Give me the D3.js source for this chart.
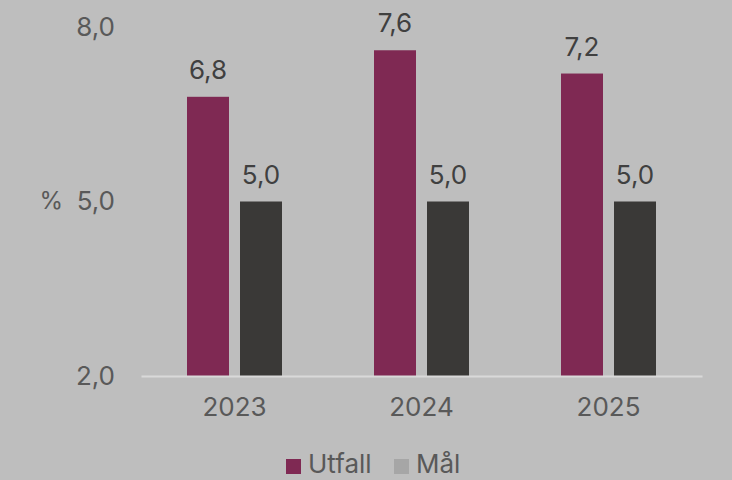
<!DOCTYPE html>
<html>
<head>
<meta charset="utf-8">
<script src="https://cdn.jsdelivr.net/npm/d3@7"></script>
<style>
  body { margin: 0; background: #bebebe; }
  svg text { font-family: Inter, "Noto Sans", sans-serif; }
</style>
</head>
<body>
<div id="chart"></div>
<script>
// data
let years = ["2023", "2024", "2025"];
let utfall = [6.8, 7.6, 7.2];
let maal = [5.0, 5.0, 5.0];
let yTicks = [2, 5, 8];
let seriesNames = ["Utfall", "Mål"];

let width = 732;
let height = 480;
let margin = {left: 141, right: 30, top: 27, bottom: 104};
let fs = 26;

let svg = d3.select("#chart").append("svg")
    .attr("width", width)
    .attr("height", height);

svg.append("rect")
    .attr("width", width)
    .attr("height", height)
    .attr("fill", "#bebebe");

let x = d3.scaleBand()
    .domain(years)
    .range([margin.left, width - margin.right]);

let y = d3.scaleLinear()
    .domain([2, 8])
    .range([height - margin.bottom, margin.top]);

let fmt = d => d3.format(".1f")(d).replace(".", ",");

// y axis labels (no line)
let yAxis = d3.axisLeft(y)
    .tickValues(yTicks)
    .tickFormat(fmt)
    .tickSize(0)
    .tickPadding(26);

let gy = svg.append("g")
    .attr("transform", "translate(" + margin.left + ",0)")
    .call(yAxis);
gy.select(".domain").remove();
gy.selectAll("text")
    .attr("font-size", fs)
    .attr("fill", "#595959");

svg.append("text")
    .attr("x", 63)
    .attr("y", y(5))
    .attr("dy", "0.32em")
    .attr("text-anchor", "end")
    .attr("font-size", fs - 2)
    .attr("fill", "#595959")
    .text("%");

let barW = 42;
let gap = 11;

let data = years.map((yr, i) => ({year: yr, values: [utfall[i], maal[i]]}));
let colors = ["#7f2953", "#3a3937"];

let groups = svg.selectAll(".grp")
    .data(data)
    .join("g")
    .attr("class", "grp")
    .attr("transform", d => "translate(" + (x(d.year) + x.bandwidth() / 2) + ",0)");

groups.selectAll("rect")
    .data(d => d.values)
    .join("rect")
    .attr("x", (d, i) => i == 0 ? -(barW + gap / 2) : gap / 2)
    .attr("y", d => y(d))
    .attr("width", barW)
    .attr("height", d => y(2) - y(d))
    .attr("fill", (d, i) => colors[i]);

groups.selectAll("text.lbl")
    .data(d => d.values)
    .join("text")
    .attr("class", "lbl")
    .attr("x", (d, i) => i == 0 ? -(barW / 2 + gap / 2) : barW / 2 + gap / 2)
    .attr("y", d => y(d) - 18)
    .attr("text-anchor", "middle")
    .attr("font-size", fs)
    .attr("fill", "#404040")
    .text(fmt);

// x axis
let gx = svg.append("g")
    .attr("transform", "translate(0," + y(2) + ")")
    .call(d3.axisBottom(x).tickSize(0).tickPadding(22));
gx.select(".domain")
    .attr("stroke", "#d9d9d9")
    .attr("stroke-width", 2);
gx.selectAll("text")
    .attr("font-size", fs)
    .attr("fill", "#595959");

// legend
let legendColors = ["#7f2953", "#a6a6a6"];
let legendX = [286, 394];
let legend = svg.selectAll(".leg")
    .data(seriesNames)
    .join("g")
    .attr("class", "leg")
    .attr("transform", (d, i) => "translate(" + legendX[i] + ",459)");

legend.append("rect")
    .attr("width", 15)
    .attr("height", 15)
    .attr("fill", (d, i) => legendColors[i]);

legend.append("text")
    .attr("x", 22)
    .attr("y", 14)
    .attr("font-size", fs)
    .attr("fill", "#595959")
    .text(d => d);
</script>
</body>
</html>
